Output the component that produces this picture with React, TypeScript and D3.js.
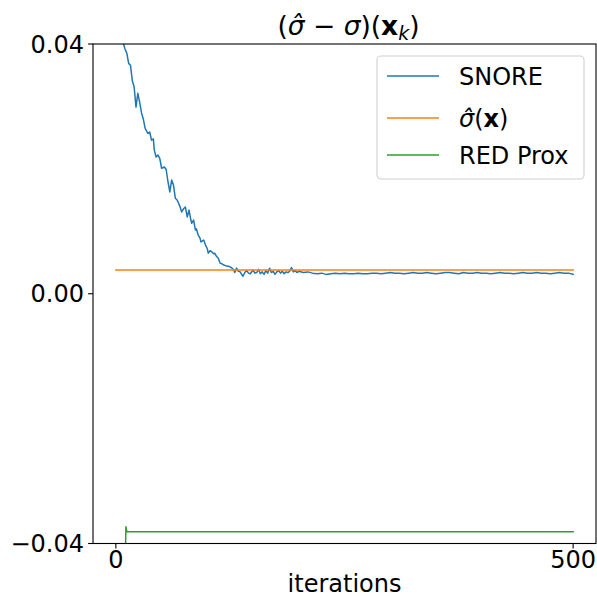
import React from "react";
import * as d3 from "d3";

const W = 597;
const H = 599;

// SNORE trace: descent phase (iteration, value)
const snoreIterA = [
  0, 4, 8, 10, 12, 14, 16, 18, 20, 22, 24, 26, 28, 30, 32, 35, 37, 39, 41, 42, 44, 46, 48, 50, 53, 55, 57, 59, 61, 63,
  65, 67, 68, 70, 72, 74, 76, 78, 80, 82, 83, 85, 87, 88, 90, 92, 93, 96, 98, 100, 101, 103, 105, 107, 108, 110, 112,
  114, 116, 118, 120, 123, 125, 127, 129, 130, 132, 134, 136, 138, 139, 141, 143, 145, 147, 149,
];
const snoreValA = [
  0.0455, 0.0428, 0.0402, 0.0392, 0.0385, 0.0369, 0.0366, 0.0341, 0.0331, 0.0299, 0.0321, 0.0307, 0.029, 0.028,
  0.0265, 0.0257, 0.0259, 0.0246, 0.0248, 0.023, 0.0219, 0.0222, 0.0217, 0.0201, 0.0203, 0.0199, 0.0179, 0.0163,
  0.0182, 0.0174, 0.0153, 0.015, 0.0147, 0.014, 0.0131, 0.0136, 0.0139, 0.0123, 0.0134, 0.0118, 0.0113, 0.0118,
  0.0102, 0.0104, 0.0094, 0.0089, 0.0083, 0.0086, 0.0078, 0.0072, 0.0065, 0.0069, 0.0067, 0.0064, 0.0065, 0.006,
  0.0057, 0.0049, 0.0048, 0.0046, 0.0045, 0.0044, 0.0043, 0.0041, 0.0038, 0.0034, 0.0041, 0.0036, 0.0035, 0.003,
  0.0028, 0.0034, 0.0037, 0.0033, 0.0032, 0.0036,
];
// SNORE trace: noisy plateau, iterations 150..200 (step 2)
const snoreIterB = [
  150, 152, 154, 156, 158, 160, 162, 164, 166, 168, 170, 172, 174, 176, 178, 180, 182, 184, 186, 188, 190, 192, 194,
  196, 198, 200,
];
const snoreValB = [
  0.0038, 0.0033, 0.0034, 0.0039, 0.0032, 0.0035, 0.0031, 0.0037, 0.0033, 0.0041, 0.0034, 0.0036, 0.0031, 0.0035,
  0.0037, 0.0033, 0.0036, 0.0032, 0.0035, 0.0034, 0.0036, 0.0042, 0.0035, 0.0037, 0.0034, 0.0036,
];
// SNORE trace: settled phase, iterations 205..500 (step 5)
const snoreIterC = [
  205, 210, 215, 220, 225, 230, 235, 240, 245, 250, 255, 260, 265, 270, 275, 280, 285, 290, 295, 300, 305, 310, 315,
  320, 325, 330, 335, 340, 345, 350, 355, 360, 365, 370, 375, 380, 385, 390, 395, 400, 405, 410, 415, 420, 425, 430,
  435, 440, 445, 450, 455, 460, 465, 470, 475, 480, 485, 490, 495, 500,
];
const snoreValC = [
  0.0034, 0.0035, 0.0033, 0.0032, 0.0033, 0.0031, 0.0032, 0.0033, 0.0032, 0.0033, 0.0032, 0.0032, 0.0033, 0.0032,
  0.0032, 0.0033, 0.0033, 0.0032, 0.0033, 0.0034, 0.0033, 0.0033, 0.0032, 0.0033, 0.0034, 0.0033, 0.0033, 0.0034,
  0.0033, 0.0032, 0.0033, 0.0034, 0.0034, 0.0033, 0.0032, 0.0034, 0.0033, 0.0033, 0.0034, 0.0033, 0.0033, 0.0032,
  0.0033, 0.0034, 0.0033, 0.0033, 0.0032, 0.0033, 0.0034, 0.0033, 0.0033, 0.0034, 0.0033, 0.0033, 0.0032, 0.0033,
  0.0034, 0.0033, 0.0033, 0.0031,
];

// sigma-hat(x): constant estimate
const sigmaIter = [0, 500];
const sigmaVal = [0.0038, 0.0038];

// RED Prox
const redIter = [10, 11, 12, 500];
const redVal = [-0.045, -0.0373, -0.0381, -0.0381];

const xTicks = [0, 500];
const yTicks = [-0.04, 0, 0.04];
const yTickLabels = ["\u22120.04", "0.00", "0.04"];
const xTickLabels = ["0", "500"];

const seriesNames = ["SNORE", "sigma", "RED Prox"];
const colors = ["#1f77b4", "#ff7f0e", "#2ca02c"];

const FONT = "DejaVu Sans, sans-serif";

function zip(a: number[], b: number[]): [number, number][] {
  const n = Math.min(a.length, b.length);
  const out: [number, number][] = [];
  for (let i = 0; i < n; i++) out.push([a[i], b[i]]);
  return out;
}

export default function App() {
  const left = 93,
    right = 596,
    top = 44,
    bottom = 543.5;
  const x = d3.scaleLinear().domain([-25, 525]).range([left, right]);
  const y = d3.scaleLinear().domain([-0.04, 0.04]).range([bottom, top]);

  const line = d3
    .line<[number, number]>()
    .x((d) => x(d[0]))
    .y((d) => y(d[1]));

  const series: [number, number][][] = [
    [...zip(snoreIterA, snoreValA), ...zip(snoreIterB, snoreValB), ...zip(snoreIterC, snoreValC)],
    zip(sigmaIter, sigmaVal),
    zip(redIter, redVal),
  ];

  const legendY = [76, 118, 155];

  return (
    <svg
      width={W}
      height={H}
      style={{ position: "fixed", left: 0, top: 0, background: "#fff" }}
      fontFamily={FONT}
    >
      <rect x={0} y={0} width={W} height={H} fill="#fff" />
      <defs>
        <clipPath id="plotclip">
          <rect x={left} y={top} width={right - left} height={bottom - top} />
        </clipPath>
      </defs>
      <g clipPath="url(#plotclip)">
        {series.map((s, i) => (
          <path
            key={i}
            d={line(s) || ""}
            fill="none"
            stroke={colors[i]}
            strokeWidth={1.5}
            strokeLinejoin="round"
            strokeLinecap="square"
          />
        ))}
      </g>
      {/* spines */}
      <rect
        x={left}
        y={top}
        width={right - left}
        height={bottom - top}
        fill="none"
        stroke="#000"
        strokeWidth={1.1}
      />
      {/* y ticks */}
      {yTicks.map((t, i) => (
        <g key={"y" + i}>
          <line x1={left - 4.9} x2={left} y1={y(t)} y2={y(t)} stroke="#000" strokeWidth={1.1} />
          <text x={left - 9} y={y(t)} dy="0.36em" textAnchor="end" fontSize={24} fill="#000">
            {yTickLabels[i]}
          </text>
        </g>
      ))}
      {/* x ticks */}
      {xTicks.map((t, i) => (
        <g key={"x" + i}>
          <line x1={x(t)} x2={x(t)} y1={bottom} y2={bottom + 4.9} stroke="#000" strokeWidth={1.1} />
          <text x={x(t)} y={568} textAnchor="middle" fontSize={24} fill="#000">
            {xTickLabels[i]}
          </text>
        </g>
      ))}
      <text x={(left + right) / 2} y={592} textAnchor="middle" fontSize={24} fill="#000">
        iterations
      </text>
      {/* title */}
      <text x={(left + right) / 2 + 4} y={35} textAnchor="middle" fontSize={26.5} fill="#000">
        <tspan>(</tspan>
        <tspan fontStyle="italic">{"\u03c3\u0302"}</tspan>
        <tspan>{" \u2212 "}</tspan>
        <tspan fontStyle="italic">{"\u03c3"}</tspan>
        <tspan>)(</tspan>
        <tspan fontWeight="bold">x</tspan>
        <tspan fontStyle="italic" fontSize={19} dy={5}>
          k
        </tspan>
        <tspan dy={-5}>)</tspan>
      </text>
      {/* legend */}
      <rect x={377} y={56} width={207} height={123} rx={4} ry={4} fill="#fff" fillOpacity={0.8} stroke="#d0d0d0" strokeWidth={1.1} />
      {seriesNames.map((name, i) => (
        <g key={"l" + i}>
          <line x1={387} x2={439} y1={legendY[i]} y2={legendY[i]} stroke={colors[i]} strokeWidth={1.5} />
          <text x={459} y={legendY[i]} dy="0.36em" fontSize={24} fill="#000">
            {name === "sigma" ? (
              <>
                <tspan fontStyle="italic">{"\u03c3\u0302"}</tspan>
                <tspan>(</tspan>
                <tspan fontWeight="bold">x</tspan>
                <tspan>)</tspan>
              </>
            ) : (
              name
            )}
          </text>
        </g>
      ))}
    </svg>
  );
}
